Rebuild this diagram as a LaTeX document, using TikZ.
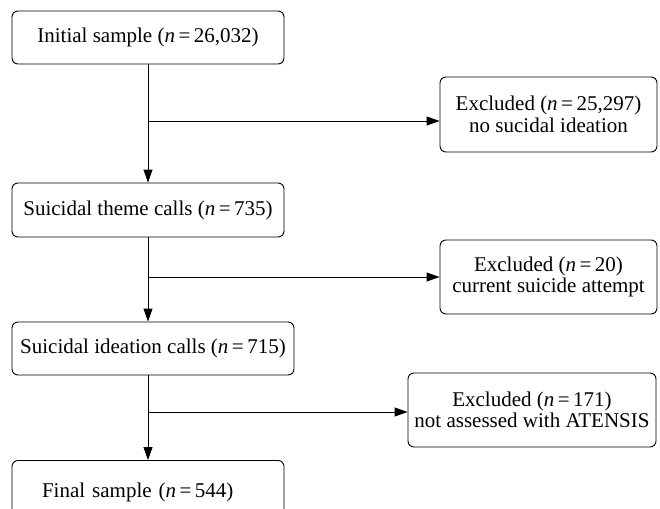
\documentclass[tikz,border=0pt]{standalone}
\usepackage{fontspec}
\setmainfont{Liberation Serif}
\usetikzlibrary{arrows.meta}
\begin{document}
\begin{tikzpicture}[x=1pt,y=-1pt,
  box/.style={draw,line width=0.9pt,rounded corners=6pt,inner sep=0pt,align=center,
    font=\fontsize{21}{21.5}\selectfont},
  conn/.style={line width=0.9pt},
  arr/.style={conn,-{Triangle[length=13pt,width=9pt]}}]
\useasboundingbox (0,0) rectangle (660,508);
\node[box,minimum width=272pt,minimum height=53pt] (b1) at (148,37.5) {Initial sample (\textit{n}\,=\,26,032)};
\node[box,minimum width=272pt,minimum height=54pt] (b2) at (148,210) {Suicidal theme calls (\textit{n}\,=\,735)};
\node[box,minimum width=282pt,minimum height=53pt] (b3) at (153,348.5) {Suicidal ideation calls (\textit{n}\,=\,715)};
\node[box,minimum width=272pt,minimum height=64pt,anchor=north,text width=212pt,align=left,inner xsep=30pt] (b4) at (148,460) {Final sample (\textit{n}\,=\,544)};
\node[box,minimum width=217pt,minimum height=75pt] (e1) at (548.5,114.5) {Excluded (\textit{n}\,=\,25,297)\\no sucidal ideation};
\node[box,minimum width=217pt,minimum height=74pt] (e2) at (548.5,277) {Excluded (\textit{n}\,=\,20)\\current suicide attempt};
\node[box,minimum width=248pt,minimum height=74pt] (e3) at (532,410) {Excluded (\textit{n}\,=\,171)\\not assessed with ATENSIS};
\coordinate (c1) at (148,121);
\coordinate (c2) at (148,277);
\coordinate (c3) at (148,412);
\draw[arr] (b1.south) -- (b2.north);
\draw[arr] (b2.south) -- (b2.south |- b3.north);
\draw[arr] (b2.south |- b3.south) -- (b4.north);
\draw[arr] (c1) -- (c1 -| e1.west);
\draw[arr] (c2) -- (c2 -| e2.west);
\draw[arr] (c3) -- (c3 -| e3.west);
\end{tikzpicture}
\end{document}
